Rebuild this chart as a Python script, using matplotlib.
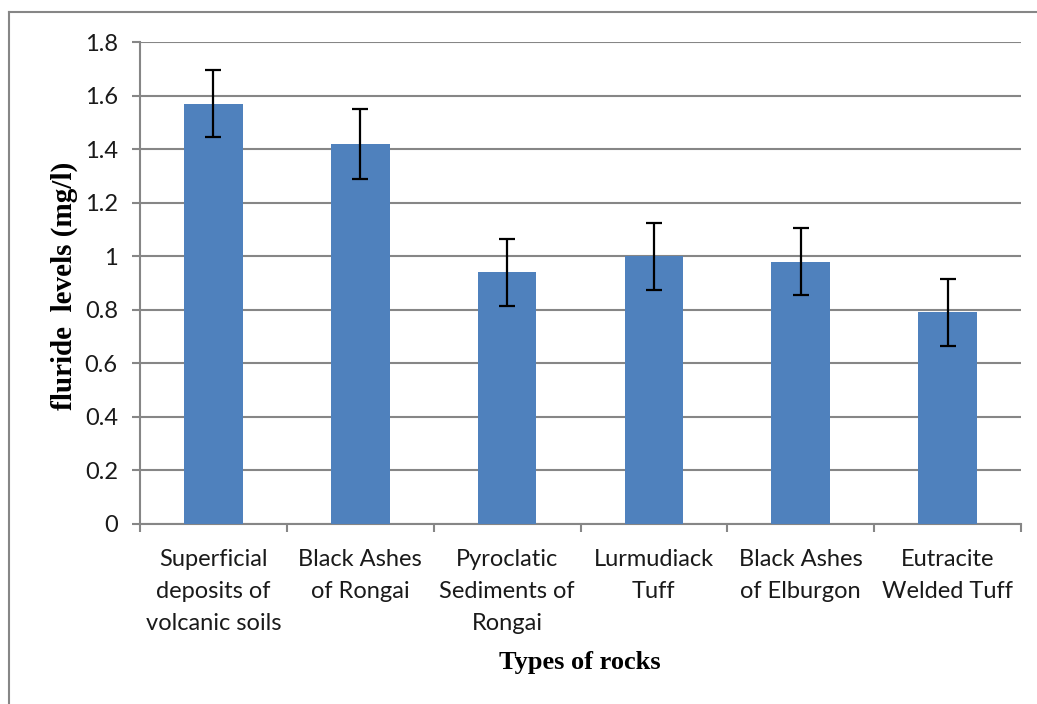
import matplotlib.pyplot as plt
import numpy as np
from matplotlib.lines import Line2D

# Data
rock_types = ["Superficial\ndeposits of\nvolcanic soils",
              "Black Ashes\nof Rongai",
              "Pyroclatic\nSediments of\nRongai",
              "Lurmudiack\nTuff",
              "Black Ashes\nof Elburgon",
              "Eutracite\nWelded Tuff"]
fluoride_mean = [1.57, 1.42, 0.94, 1.00, 0.98, 0.79]
fluoride_err  = [0.125, 0.13, 0.125, 0.125, 0.125, 0.125]
y_ticks       = [0, 0.2, 0.4, 0.6, 0.8, 1, 1.2, 1.4, 1.6, 1.8]
y_tick_labels = ["0", "0.2", "0.4", "0.6", "0.8", "1", "1.2", "1.4", "1.6", "1.8"]

grid_color = "#868686"
bar_color  = "#4F81BD"
text_color = "#1a1a1a"

fig = plt.figure(figsize=(10.37, 7.04), dpi=100)
ax = fig.add_axes([0.135, 0.2557, 0.8496, 0.6846])

x = np.arange(len(rock_types))
ax.bar(x, fluoride_mean, width=0.4, color=bar_color, zorder=3)
ax.errorbar(x, fluoride_mean, yerr=fluoride_err, fmt="none", ecolor="black",
            elinewidth=1.6, capsize=5.5, capthick=1.6, zorder=4)

ax.set_xlim(-0.5, len(rock_types) - 0.5)
ax.set_ylim(0, 1.8)
ax.set_yticks(y_ticks)
ax.set_yticklabels(y_tick_labels, fontsize=17, family="Lato", color=text_color)
ax.yaxis.grid(True, color=grid_color, linewidth=1.5, zorder=0)
ax.tick_params(axis="y", length=6, width=1.5, color=grid_color, pad=10)

# category labels centred, ticks at boundaries
ax.set_xticks(np.arange(len(rock_types) + 1) - 0.5)
ax.set_xticklabels([])
ax.tick_params(axis="x", length=6, width=1.5, color=grid_color)
for xi, lab in zip(x, rock_types):
    ax.text(xi, -0.092, lab, ha="center", va="top", fontsize=17, family="Lato",
            color=text_color, linespacing=1.66, transform=ax.transData)

for s in ["top", "right"]:
    ax.spines[s].set_visible(False)
for s in ["left", "bottom"]:
    ax.spines[s].set_color(grid_color)
    ax.spines[s].set_linewidth(1.5)

fig.text(64/1037, 1 - 286/704, "fluride  levels (mg/l)", rotation=90, ha="center",
         va="center", fontsize=21, fontweight="bold", family="Liberation Serif")
fig.text(0.5595, 1 - 662/704, "Types of rocks", ha="center", va="center", fontsize=19,
         fontweight="bold", family="Liberation Serif")

# outer frame (cropped on right and bottom)
fig.add_artist(Line2D([9/1037, 9/1037], [0, 1 - 12/704], color=grid_color, lw=1.5))
fig.add_artist(Line2D([9/1037, 1], [1 - 12/704, 1 - 12/704], color=grid_color, lw=1.5))

fig.savefig("out.png", dpi=100)
